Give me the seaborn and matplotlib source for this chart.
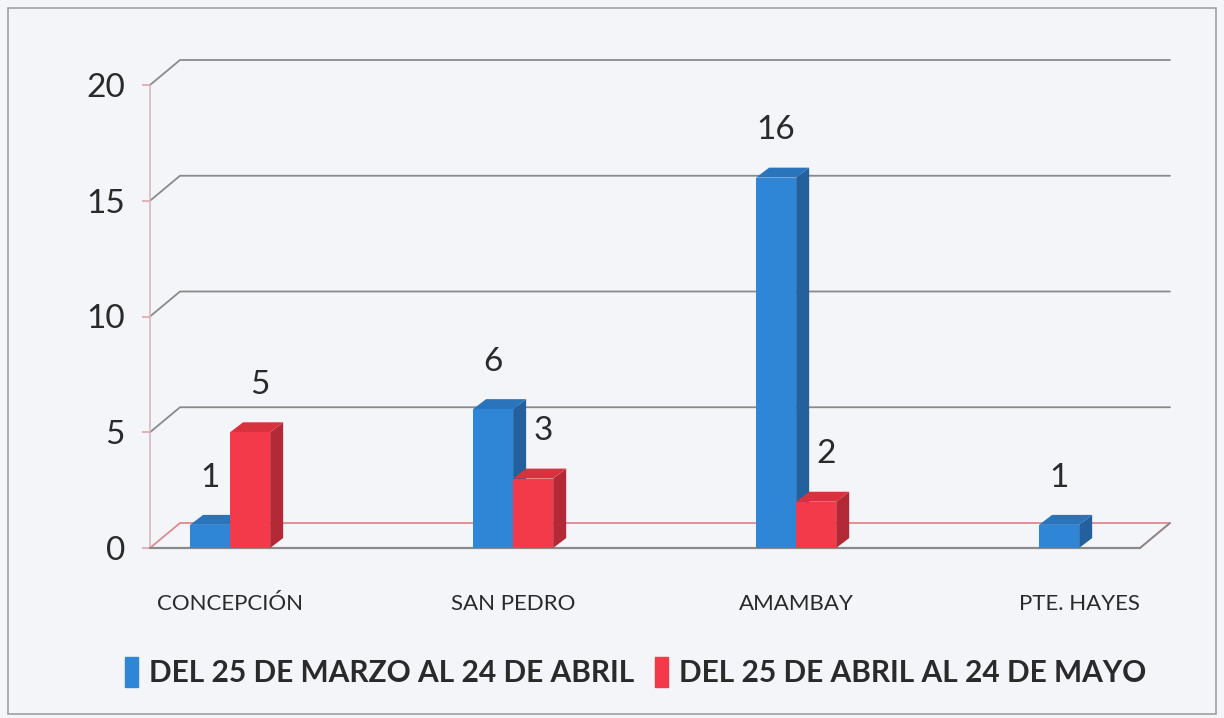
import pandas as pd
import seaborn as sns
import matplotlib.pyplot as plt
from matplotlib.patches import Polygon, Rectangle

# values
departamentos = ["CONCEPCIÓN", "SAN PEDRO", "AMAMBAY", "PTE. HAYES"]
periodos = ["DEL 25 DE MARZO AL 24 DE ABRIL", "DEL 25 DE ABRIL AL 24 DE MAYO"]
marzo_abril = [1, 6, 16, 1]
abril_mayo = [5, 3, 2, None]  # PTE. HAYES has no bar in the second period

rows = []
for d, a, b in zip(departamentos, marzo_abril, abril_mayo):
    rows.append([d, periodos[0], a])
    if b is not None:
        rows.append([d, periodos[1], b])
data = pd.DataFrame(rows, columns=["Departamento", "Periodo", "Casos"])

colores = ["#2f86d6", "#f23a4a"]
laterales = ["#24609e", "#b32a36"]
techos = ["#2a74bb", "#d8323f"]
bg = "#f4f5f9"
txt = "#2a2a2a"

sns.set_theme(style="white")
plt.rcParams["font.family"] = ["Lato", "DejaVu Sans"]

fig = plt.figure(figsize=(12.24, 7.18), dpi=100, facecolor=bg)
ax = fig.add_axes([150 / 1224, 1 - 548 / 718, 990 / 1224, 463 / 718])
ax.set_facecolor("none")

sns.barplot(data=data, x="Departamento", y="Casos", hue="Periodo",
            order=departamentos, hue_order=periodos, palette=colores,
            width=0.283, gap=0, saturation=1, legend=False, linewidth=0,
            ax=ax, zorder=3)

xl, xr = -0.283, 3.215
ax.set_xlim(xl, xr)
ax.set_ylim(0, 20)

# pseudo 3D back wall
dxb, dyb = 0.106, 1.08
for v in [5, 10, 15, 20]:
    ax.plot([xl, xl + dxb, xr + dxb], [v, v + dyb, v + dyb], color="#8a8a8a",
            lw=1.3, clip_on=False, zorder=1)
ax.plot([xl, xl + dxb, xr + dxb, xr], [0, dyb, dyb, 0], color="#e08a8e",
        lw=1.3, clip_on=False, zorder=1)
ax.plot([xl, xr], [0, 0], color="#8a8a8a", lw=1.6, clip_on=False, zorder=2)
ax.plot([xr, xr + dxb], [0, dyb], color="#8a8a8a", lw=1.3, clip_on=False, zorder=1)

# depth on the bars
dx, dy = 0.046, 0.43
for i, cont in enumerate(ax.containers):
    for p in cont.patches:
        x0 = p.get_x()
        x1 = x0 + p.get_width()
        h = p.get_height()
        z = 3 + i
        p.set_zorder(z + 0.5)
        p.set_edgecolor("none")
        ax.add_patch(Polygon([(x1, 0), (x1 + dx, dy), (x1 + dx, h + dy), (x1, h)],
                             closed=True, color=laterales[i], zorder=z, lw=0))
        ax.add_patch(Polygon([(x0, h), (x0 + dx, h + dy), (x1 + dx, h + dy), (x1, h)],
                             closed=True, color=techos[i], zorder=z, lw=0))
        shift = 0.0 if i == 0 else 0.035
        ax.annotate(f"{h:.0f}", (x0 + p.get_width() / 2 + shift, h), xytext=(0, 34),
                    textcoords="offset points", ha="center", va="center",
                    fontsize=24, color=txt, zorder=10)

sns.despine(ax=ax, left=True, bottom=True, right=True, top=True)
ax.plot([xl, xl], [0, 20], color="#d9b8bc", lw=1.2, clip_on=False, zorder=1)

ax.set_yticks([0, 5, 10, 15, 20])
ax.tick_params(axis="y", labelsize=24, labelcolor=txt, length=6, color="#e4a8ac",
               pad=12, left=True)
ax.tick_params(axis="x", labelsize=16, labelcolor=txt, length=0, pad=33)
ax.set_xlabel("")
ax.set_ylabel("")

handles = [Rectangle((0, 0), 1, 1, color=c) for c in colores]
fig.legend(handles, periodos, loc="center", bbox_to_anchor=(0.519, 1 - 672 / 718),
           ncol=2, frameon=False, handlelength=0.45, handleheight=1.2,
           handletextpad=0.35, columnspacing=0.7,
           prop={"weight": "bold", "size": 21.5})
for t in fig.legends[0].get_texts():
    t.set_color(txt)

fig.patches.append(Rectangle((8 / 1224, 4 / 718), 1208 / 1224, 706 / 718,
                             transform=fig.transFigure, fill=False,
                             edgecolor="#a0a0a0", lw=1.2))

plt.savefig("out.png", dpi=100, facecolor=bg)
